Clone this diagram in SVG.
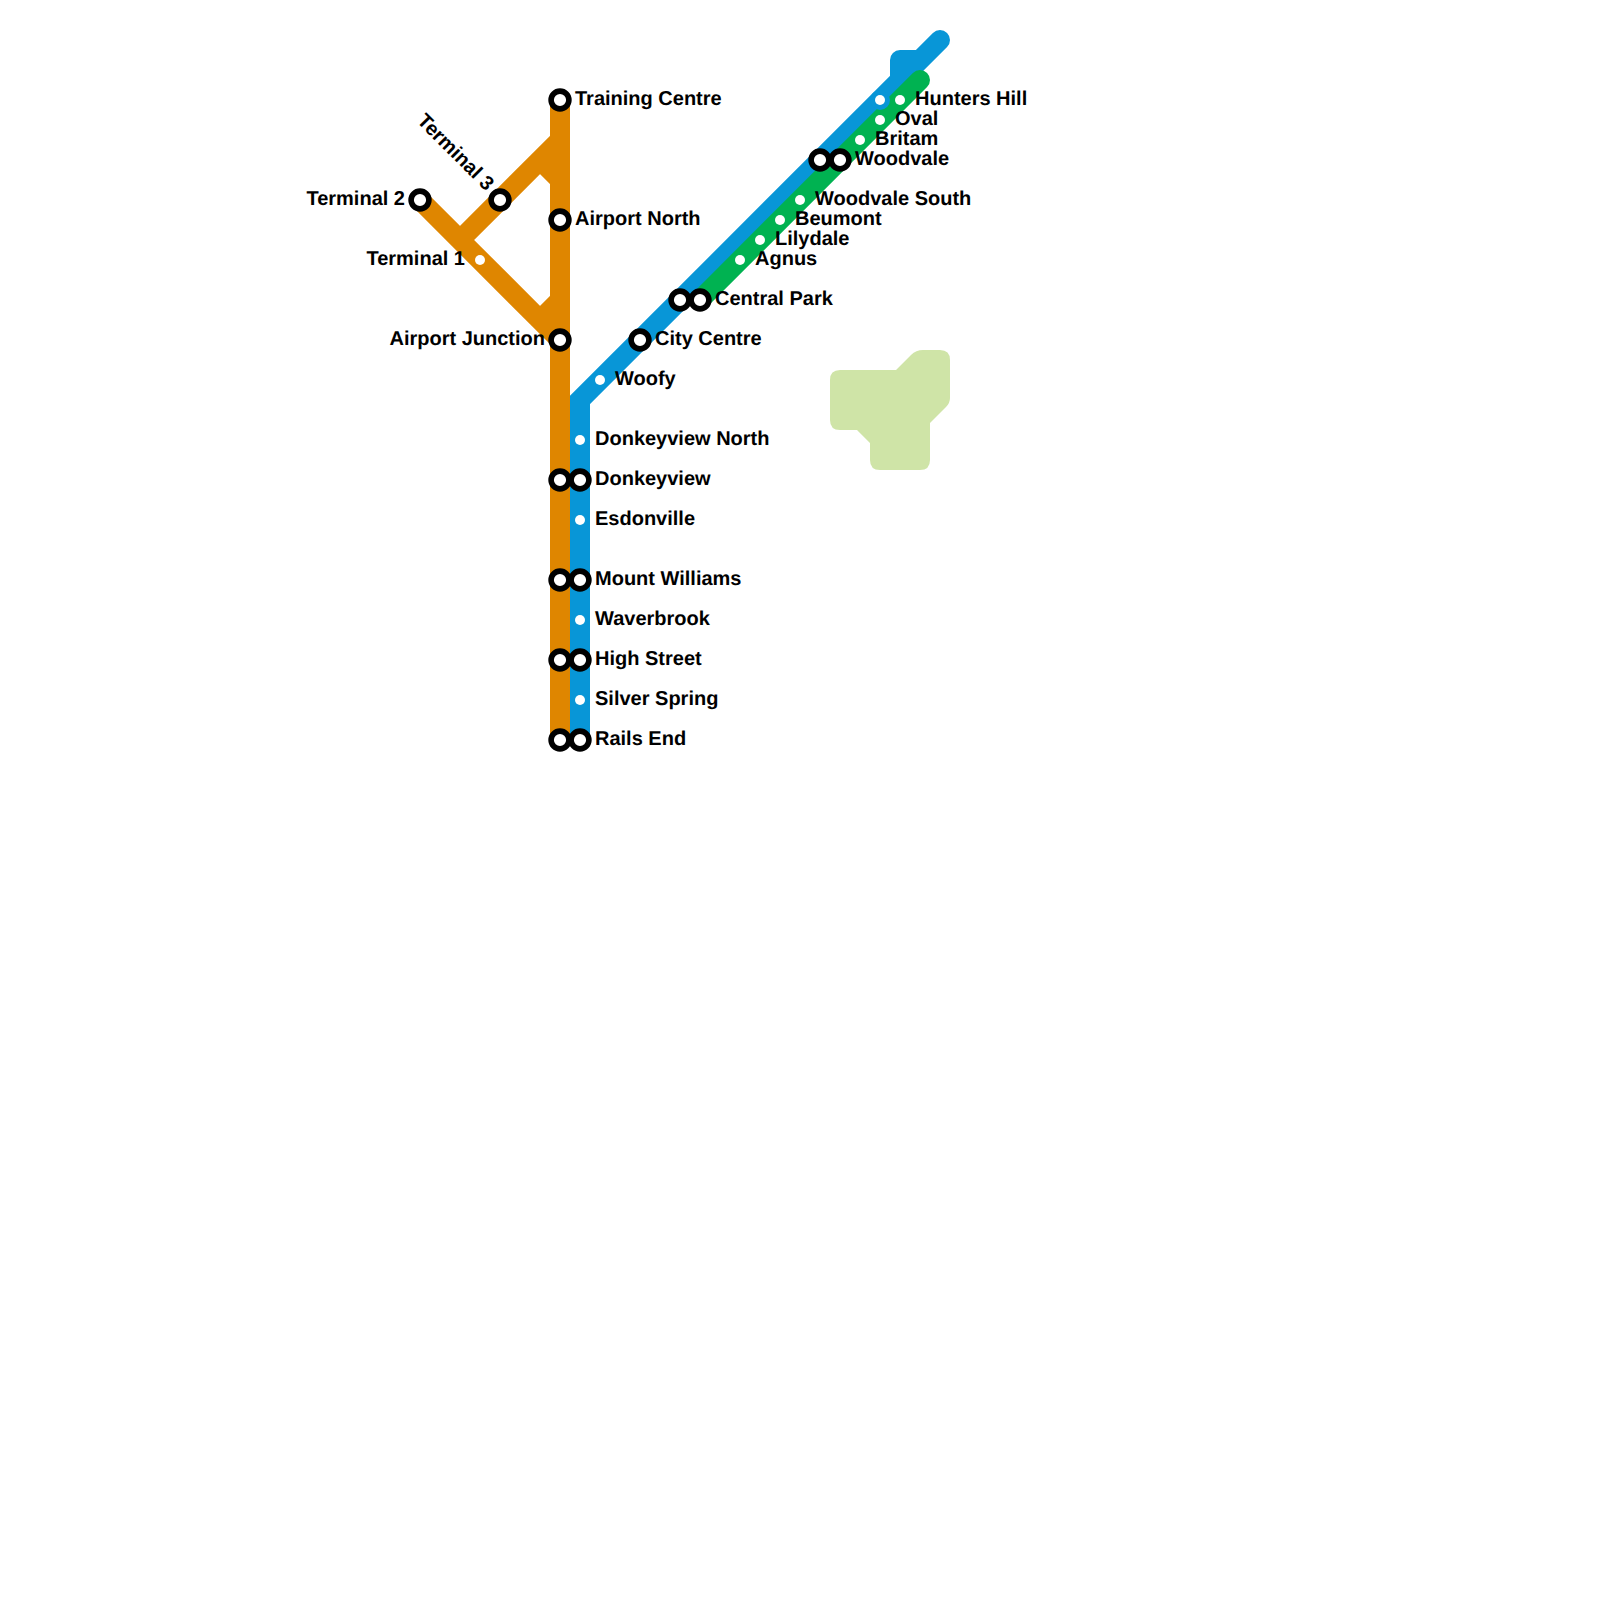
<svg xmlns="http://www.w3.org/2000/svg" width="1600" height="1600" viewBox="0 0 1600 1600">
<style>
.line{fill:none;stroke-width:20}
.or{stroke:#df8600;stroke-linejoin:miter}
.bl{stroke:#0896d7}
.gr{stroke:#00b251}
.st{fill:#fff;stroke:#000;stroke-width:5.6}
.dot{fill:#fff}
text{font-family:"Liberation Sans",Arial,sans-serif;font-weight:700;font-size:20px;fill:#000;text-rendering:geometricPrecision}
.end{text-anchor:end}
</style>
<rect width="1600" height="1600" fill="#fff"/>
<path id="park" fill="#cfe4a7" d="M840,370H896L911,355Q916,350 923,350H940Q950,350 950,360V398Q950,403 946,407L930,423V460Q930,470 920,470H880Q870,470 870,460V443L857,430H840Q830,430 830,420V380Q830,370 840,370Z"/>
<g id="connectors">
<path class="line or" d="M560,100V740M420,200L560,340M460,240L560,140M540,160L560,180M540,320L560,300"/>
<path class="line bl" stroke-linejoin="miter" d="M580,740V400L940,40" stroke-linecap="round"/>
<path class="line bl" stroke-linejoin="round" d="M900,80V60H920"/>
<path class="line gr" stroke-linecap="round" d="M700,300L920,80"/>
<circle cx="880" cy="100" r="10" fill="#0896d7"/>
</g>
<g id="training-centre"><circle class="st" cx="560" cy="100" r="8.9"/><text x="575" y="105">Training Centre</text></g>
<g id="airport-north"><circle class="st" cx="560" cy="220" r="8.9"/><text x="575" y="225">Airport North</text></g>
<g id="airport-junction"><circle class="st" cx="560" cy="340" r="8.9"/><text class="end" x="545" y="345">Airport Junction</text></g>
<g id="terminal-2"><circle class="st" cx="420" cy="200" r="8.9"/><text class="end" x="405" y="205">Terminal 2</text></g>
<g id="terminal-3"><circle class="st" cx="500" cy="200" r="8.9"/><text class="end" transform="rotate(45 500 200)" x="484" y="204">Terminal 3</text></g>
<g id="terminal-1"><circle class="dot" cx="480" cy="260" r="5"/><text class="end" x="465" y="265">Terminal 1</text></g>
<g id="woofy"><circle class="dot" cx="600" cy="380" r="5"/><text x="615" y="385">Woofy</text></g>
<g id="city-centre"><circle class="st" cx="640" cy="340" r="8.9"/><text x="655" y="345">City Centre</text></g>
<g id="central-park"><circle class="st" cx="680" cy="300" r="8.9"/><circle class="st" cx="700" cy="300" r="8.9"/><text x="715" y="305">Central Park</text></g>
<g id="agnus"><circle class="dot" cx="740" cy="260" r="5"/><text x="755" y="265">Agnus</text></g>
<g id="lilydale"><circle class="dot" cx="760" cy="240" r="5"/><text x="775" y="245">Lilydale</text></g>
<g id="beumont"><circle class="dot" cx="780" cy="220" r="5"/><text x="795" y="225">Beumont</text></g>
<g id="woodvale-south"><circle class="dot" cx="800" cy="200" r="5"/><text x="815" y="205">Woodvale South</text></g>
<g id="woodvale"><circle class="st" cx="820" cy="160" r="8.9"/><circle class="st" cx="840" cy="160" r="8.9"/><text x="855" y="165">Woodvale</text></g>
<g id="britam"><circle class="dot" cx="860" cy="140" r="5"/><text x="875" y="145">Britam</text></g>
<g id="oval"><circle class="dot" cx="880" cy="120" r="5"/><text x="895" y="125">Oval</text></g>
<g id="hunters-hill"><circle class="dot" cx="880" cy="100" r="5"/><circle class="dot" cx="900" cy="100" r="5"/><text x="915" y="105">Hunters Hill</text></g>
<g id="donkeyview-north"><circle class="dot" cx="580" cy="440" r="5"/><text x="595" y="445">Donkeyview North</text></g>
<g id="donkeyview"><circle class="st" cx="560" cy="480" r="8.9"/><circle class="st" cx="580" cy="480" r="8.9"/><text x="595" y="485">Donkeyview</text></g>
<g id="esdonville"><circle class="dot" cx="580" cy="520" r="5"/><text x="595" y="525">Esdonville</text></g>
<g id="mount-williams"><circle class="st" cx="560" cy="580" r="8.9"/><circle class="st" cx="580" cy="580" r="8.9"/><text x="595" y="585">Mount Williams</text></g>
<g id="waverbrook"><circle class="dot" cx="580" cy="620" r="5"/><text x="595" y="625">Waverbrook</text></g>
<g id="high-street"><circle class="st" cx="560" cy="660" r="8.9"/><circle class="st" cx="580" cy="660" r="8.9"/><text x="595" y="665">High Street</text></g>
<g id="silver-spring"><circle class="dot" cx="580" cy="700" r="5"/><text x="595" y="705">Silver Spring</text></g>
<g id="rails-end"><circle class="st" cx="560" cy="740" r="8.9"/><circle class="st" cx="580" cy="740" r="8.9"/><text x="595" y="745">Rails End</text></g>
</svg>
